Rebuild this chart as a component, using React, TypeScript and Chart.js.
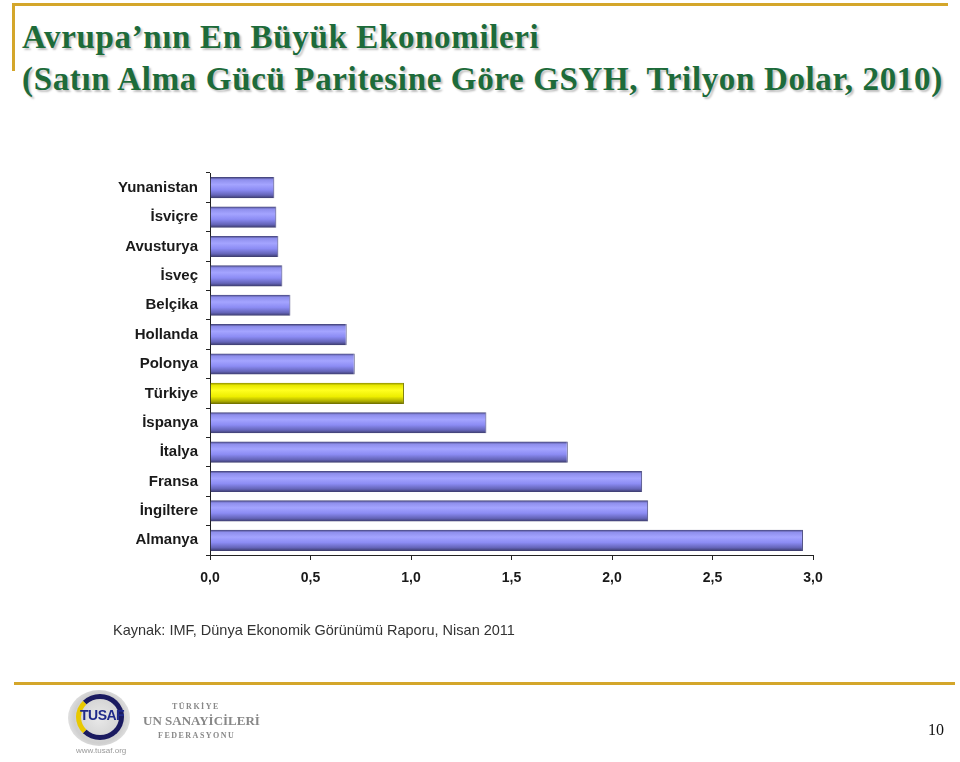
import React, { useEffect, useRef } from "react";
import { Chart, registerables } from "chart.js";

Chart.register(...registerables);

const countries = [
  "Yunanistan", "İsviçre", "Avusturya", "İsveç", "Belçika", "Hollanda", "Polonya",
  "Türkiye", "İspanya", "İtalya", "Fransa", "İngiltere", "Almanya",
];
const gdpTrillion = [0.32, 0.33, 0.34, 0.36, 0.40, 0.68, 0.72, 0.965, 1.375, 1.78, 2.15, 2.18, 2.95];
const highlighted = "Türkiye";
const xTicks = [0, 0.5, 1, 1.5, 2, 2.5, 3];

const titleLine1 = "Avrupa\u2019nın En Büyük Ekonomileri";
const titleLine2 = "(Satın Alma Gücü Paritesine Göre GSYH, Trilyon Dolar, 2010)";
const sourceText = "Kaynak: IMF, Dünya Ekonomik Görünümü Raporu, Nisan 2011";
const pageNumber = "10";

const BAR_PCT = 0.72;

function barGradient(ctx: any) {
  const chart = ctx.chart;
  const isHi = countries[ctx.dataIndex] === highlighted;
  const fallback = isHi ? "#eeee00" : "#8888ee";
  const y = chart.scales?.y;
  if (!y || ctx.dataIndex === undefined) return fallback;
  const center = y.getPixelForValue(ctx.dataIndex);
  const cat = (y.bottom - y.top) / countries.length;
  const h = cat * BAR_PCT;
  const top = center - h / 2;
  if (!Number.isFinite(top) || !Number.isFinite(h) || h <= 0) return fallback;
  const g = chart.ctx.createLinearGradient(0, top, 0, top + h);
  if (isHi) {
    g.addColorStop(0, "#8a8a00");
    g.addColorStop(0.12, "#e8e800");
    g.addColorStop(0.35, "#ffff20");
    g.addColorStop(0.65, "#eeee00");
    g.addColorStop(0.88, "#a8a800");
    g.addColorStop(1, "#6a6a00");
  } else {
    g.addColorStop(0, "#3c3c6e");
    g.addColorStop(0.12, "#8e8eec");
    g.addColorStop(0.35, "#a4a4ff");
    g.addColorStop(0.6, "#8c8cf4");
    g.addColorStop(0.85, "#6464b8");
    g.addColorStop(1, "#3a3a68");
  }
  return g;
}

export default function App() {
  const ref = useRef<HTMLCanvasElement>(null);

  useEffect(() => {
    if (!ref.current) return;
    const chart = new Chart(ref.current, {
      type: "bar",
      data: {
        labels: countries,
        datasets: [
          {
            data: gdpTrillion,
            backgroundColor: barGradient,
            borderColor: (ctx: any) =>
              countries[ctx.dataIndex] === highlighted ? "#7a7a00" : "#44447a",
            borderWidth: { top: 0, bottom: 0, left: 0, right: 1 },
            borderSkipped: false,
            barPercentage: BAR_PCT,
            categoryPercentage: 1,
          },
        ],
      },
      options: {
        indexAxis: "y",
        animation: false,
        responsive: false,
        maintainAspectRatio: false,
        layout: { padding: { left: 100, right: 147, top: 173, bottom: 167 } },
        plugins: { legend: { display: false }, tooltip: { enabled: false }, title: { display: false } },
        scales: {
          x: {
            min: 0,
            max: 3,
            afterFit: (s: any) => { s.height = 40; },
            afterBuildTicks: (s: any) => { s.ticks = xTicks.map((v) => ({ value: v })); },
            ticks: {
              color: "#1a1a1a",
              font: { family: "Liberation Sans, Arial", size: 14, weight: "bold" },
              padding: 10,
              maxRotation: 0,
              callback: (v: any) => Number(v).toFixed(1).replace(".", ","),
            },
            grid: { drawOnChartArea: false, tickLength: 5, color: "#222", offset: false },
            border: { display: true, color: "#222", width: 1 },
          },
          y: {
            afterFit: (s: any) => { s.width = 110; },
            ticks: {
              color: "#1a1a1a",
              font: { family: "Liberation Sans, Arial", size: 15, weight: "bold" },
              padding: 8,
            },
            grid: { drawOnChartArea: false, tickLength: 4, color: "#222", offset: true },
            border: { display: true, color: "#222", width: 1 },
          },
        },
      },
    });
    chart.update();
    return () => chart.destroy();
  }, []);

  const gold = "#d4a62a";
  const titleStyle: React.CSSProperties = {
    position: "absolute",
    left: 22,
    fontFamily: "'Liberation Serif', 'DejaVu Serif', serif",
    fontWeight: "bold",
    fontSize: 33,
    letterSpacing: 0.65,
    color: "#1d6b3a",
    textShadow: "2px 2px 2px rgba(0,0,0,0.25)",
    whiteSpace: "nowrap",
    lineHeight: "36px",
  };

  return (
    <div style={{ position: "fixed", left: 0, top: 0, width: 960, height: 762, background: "#fff", overflow: "hidden" }}>
      <div style={{ position: "absolute", left: 12, top: 3, width: 936, height: 3, background: gold }} />
      <div style={{ position: "absolute", left: 12, top: 3, width: 3, height: 68, background: gold }} />
      <div style={{ ...titleStyle, top: 19 }}>{titleLine1}</div>
      <div style={{ ...titleStyle, top: 61 }}>{titleLine2}</div>
      <canvas ref={ref} width={960} height={762} style={{ position: "absolute", left: 0, top: 0, width: 960, height: 762 }} />
      <div style={{ position: "absolute", left: 113, top: 622, fontFamily: "'Liberation Sans', Arial, sans-serif", fontSize: 14.5, color: "#333", whiteSpace: "nowrap" }}>
        {sourceText}
      </div>
      <div style={{ position: "absolute", left: 14, top: 682, width: 941, height: 3, background: gold }} />
      <div style={{ position: "absolute", left: 68, top: 690, width: 62, height: 56, borderRadius: "50%", background: "radial-gradient(circle, #e9e9e9 0%, #cfcfcf 60%, #fff 100%)" }} />
      <div style={{ position: "absolute", left: 76, top: 694, width: 48, height: 46, borderRadius: "50%", border: "5px solid #1a1a60", borderLeftColor: "#e8c800", boxSizing: "border-box" }} />
      <div style={{ position: "absolute", left: 80, top: 707, fontFamily: "'Liberation Sans Narrow', 'Liberation Sans', Arial", fontWeight: "bold", fontSize: 14, color: "#1f2a8a", letterSpacing: -0.5 }}>TUSAF</div>
      <div style={{ position: "absolute", left: 76, top: 746, fontFamily: "'Liberation Sans', Arial", fontSize: 8, color: "#999" }}>www.tusaf.org</div>
      <div style={{ position: "absolute", left: 172, top: 702, fontFamily: "'Liberation Serif', serif", fontWeight: "bold", fontSize: 8, color: "#888", letterSpacing: 1.5 }}>TÜRKİYE</div>
      <div style={{ position: "absolute", left: 143, top: 713, fontFamily: "'Liberation Serif', serif", fontWeight: "bold", fontSize: 13, color: "#888", letterSpacing: 0 }}>UN SANAYİCİLERİ</div>
      <div style={{ position: "absolute", left: 158, top: 731, fontFamily: "'Liberation Serif', serif", fontWeight: "bold", fontSize: 8, color: "#888", letterSpacing: 1.5 }}>FEDERASYONU</div>
      <div style={{ position: "absolute", left: 928, top: 721, fontFamily: "'Liberation Serif', serif", fontSize: 16, color: "#111" }}>{pageNumber}</div>
    </div>
  );
}
